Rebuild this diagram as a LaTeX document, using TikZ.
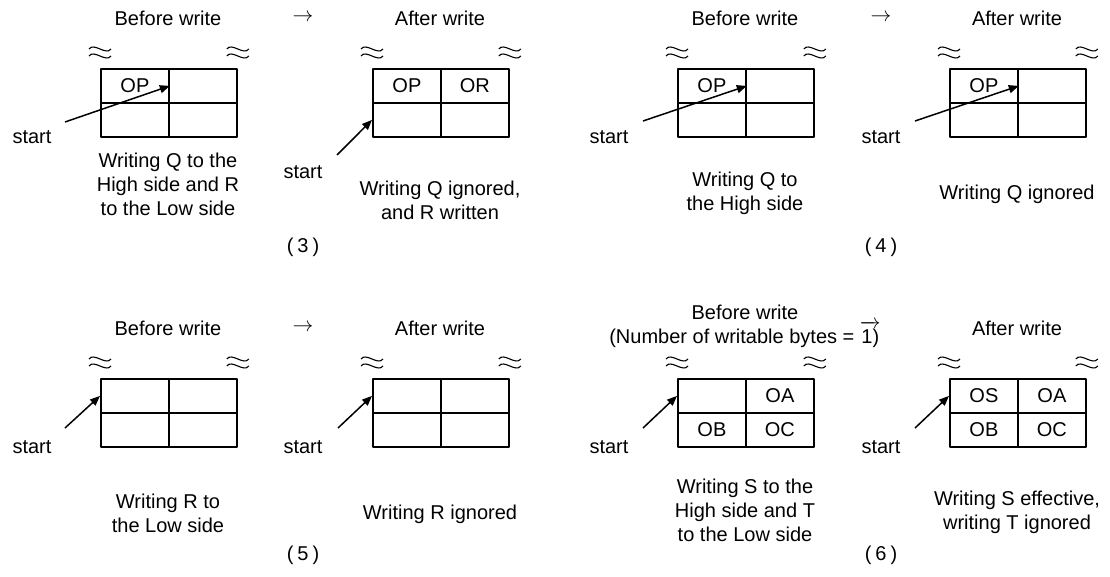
\documentclass[tikz,border=0pt]{standalone}
\usepackage{fontspec}
\usepackage{amsmath}
\setmainfont{Liberation Sans}
\usetikzlibrary{arrows.meta}
% wavy break mark above a box corner
\newcommand{\brk}[1]{\draw[wave] #1 ++(-11,-19) .. controls +(5,-7) and +(-5,7) .. ++(22,0)
  ++(-22,7) .. controls +(5,-7) and +(-5,7) .. ++(22,0);}
% 2x2 register box: name, left, top, four cell texts
\newcommand{\membox}[7]{%
  \node[cell] (#1a) at (#2,#3) {#4};
  \node[cell] (#1b) at (#2+68,#3) {#5};
  \node[cell] (#1c) at (#2,#3+34) {#6};
  \node[cell] (#1d) at (#2+68,#3+34) {#7};
  \brk{(#1a.north west)}
  \brk{(#1b.north east)}}
% case number with wide brackets
\newcommand{\casenum}[1]{(\hspace{4pt}#1\hspace{4pt})}
\begin{document}
\begin{tikzpicture}[x=1pt,y=-1pt,line join=round,
  font=\fontsize{20}{24}\selectfont,
  cell/.style={draw,line width=1.8pt,minimum width=68pt,minimum height=34pt,inner sep=0pt,anchor=north west},
  txt/.style={align=center,inner sep=0pt},
  wave/.style={line width=1.1pt},
  ptr/.style={-{Triangle[length=10pt,width=8pt]},line width=1.5pt}]
\useasboundingbox (0,0) rectangle (1110,577);
% headers
\node[txt] (h1) at (168,18) {Before write};
\node[txt] (g1) at (303,18) {$\rightarrow$};
\node[txt] (h2) at (440,18) {After write};
\node[txt] (h3) at (745,18) {Before write};
\node[txt] (g2) at (881,18) {$\rightarrow$};
\node[txt] (h4) at (1017,18) {After write};
\node[txt] (h5) at (168,328) {Before write};
\node[txt] (g3) at (303,328) {$\rightarrow$};
\node[txt] (h6) at (440,328) {After write};
\node[txt] (h7) at (745,326) {Before write\\(Number of writable bytes = $\overrightarrow{\mbox{1)}}$};
\node[txt] (h8) at (1017,328) {After write};
% boxes
\membox{p1}{100}{68}{OP}{}{}{}
\membox{p2}{372}{68}{OP}{OR}{}{}
\membox{p3}{677}{68}{OP}{}{}{}
\membox{p4}{949}{68}{OP}{}{}{}
\membox{p5}{100}{378}{}{}{}{}
\membox{p6}{372}{378}{}{}{}{}
\membox{p7}{677}{378}{}{OA}{OB}{OC}
\membox{p8}{949}{378}{OS}{OA}{OB}{OC}
% start pointers
\node[txt] (s1) at (32,137) {start};
\node[txt] (s2) at (303,172) {start};
\node[txt] (s3) at (609,137) {start};
\node[txt] (s4) at (881,137) {start};
\node[txt] (s5) at (32,447) {start};
\node[txt] (s6) at (303,447) {start};
\node[txt] (s7) at (609,447) {start};
\node[txt] (s8) at (881,447) {start};
\coordinate (t1) at (65,122);
\coordinate (t2) at (337,155);
\coordinate (t3) at (643,121);
\coordinate (t4) at (915,121);
\coordinate (t5) at (65,428);
\coordinate (t6) at (338,428);
\coordinate (t7) at (643,428);
\coordinate (t8) at (915,428);
\draw[ptr] (t1) -- (p1a.east);
\draw[ptr] (t2) -- (p2c.west);
\draw[ptr] (t3) -- (p3a.east);
\draw[ptr] (t4) -- (p4a.east);
\foreach \i in {5,...,8}
  \draw[ptr] (t\i) -- (p\i a.west);
% captions
\node[txt] (c1) at (168,184) {Writing Q to the\\High side and R\\to the Low side};
\node[txt] (c2) at (440,200) {Writing Q ignored,\\and R written};
\node[txt] (c3) at (745,193) {Writing Q to\\the High side};
\node[txt] (c4) at (1017,194) {Writing Q ignored};
\node[txt] (c5) at (168,513) {Writing R to\\the Low side};
\node[txt] (c6) at (440,514) {Writing R ignored};
\node[txt] (c7) at (745,510) {Writing S to the\\High side and T\\to the Low side};
\node[txt] (c8) at (1017,512) {Writing S effective,\\writing T ignored};
\node[txt] (n3) at (303,247) {\casenum{3}};
\node[txt] (n4) at (881,247) {\casenum{4}};
\node[txt] (n5) at (303,555) {\casenum{5}};
\node[txt] (n6) at (881,555) {\casenum{6}};
\end{tikzpicture}
\end{document}
